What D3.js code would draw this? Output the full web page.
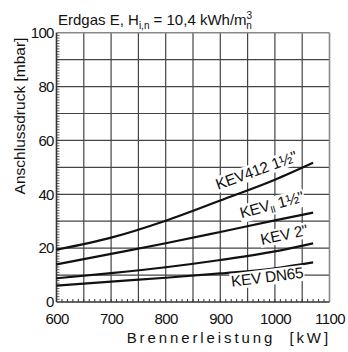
<!DOCTYPE html>
<html>
<head>
<meta charset="utf-8">
<script src="https://cdn.jsdelivr.net/npm/d3@7"></script>
<style>
  body { margin: 0; background: #fff; }
  text { font-family: 'Liberation Sans', Arial, sans-serif; fill: #111; }
</style>
</head>
<body>
<script>
const width = 348;
const height = 352;
const margin = {left: 56.5, right: 18.5, top: 32.7, bottom: 50};
const plotW = width - margin.left - margin.right;
const plotH = height - margin.top - margin.bottom;

// data (kW -> mbar)
const leistung = [600, 700, 800, 900, 1000, 1070];
const kev412 = [19.4, 23.9, 30.2, 37.7, 45.4, 51.7];
const kevII = [14.0, 17.9, 21.8, 26.0, 30.3, 33.2];
const kev2 = [8.8, 10.7, 12.9, 15.6, 18.8, 21.8];
const kevDN65 = [6.1, 7.6, 9.0, 10.6, 12.5, 14.7];
const xTicks = [600, 700, 800, 900, 1000, 1100];
const yTicks = [0, 20, 40, 60, 80, 100];

const series = [kev412, kevII, kev2, kevDN65];
// label anchors in data units: [kW, mbar, angle]
const labelAnchors = [[896, 41.6, -20], [939, 31.1, -15], [976, 21.2, -12], [921, 5.7, -7]];

const svg = d3.select('body')
  .append('svg')
  .attr('width', width)
  .attr('height', height);

const g = svg.append('g')
  .attr('transform', `translate(${margin.left}, ${margin.top})`);

const xScale = d3.scaleLinear().domain([600, 1100]).range([0, plotW]);
const yScale = d3.scaleLinear().domain([0, 100]).range([plotH, 0]);

// grid
g.append('g')
  .selectAll('line')
  .data(d3.range(650, 1100, 50))
  .join('line')
  .attr('x1', d => xScale(d)).attr('x2', d => xScale(d))
  .attr('y1', 0).attr('y2', plotH)
  .attr('stroke', '#444').attr('stroke-width', 1.2);

g.append('g')
  .selectAll('line')
  .data(d3.range(10, 100, 10))
  .join('line')
  .attr('y1', d => yScale(d)).attr('y2', d => yScale(d))
  .attr('x1', 0).attr('x2', plotW)
  .attr('stroke', '#444').attr('stroke-width', 1.2);

// minor ticks inside
g.append('g')
  .selectAll('line')
  .data(d3.range(610, 1100, 10))
  .join('line')
  .attr('x1', d => xScale(d)).attr('x2', d => xScale(d))
  .attr('y1', plotH).attr('y2', plotH - 3)
  .attr('stroke', '#333').attr('stroke-width', 1);

g.append('g')
  .selectAll('line')
  .data(d3.range(1, 100, 1))
  .join('line')
  .attr('y1', d => yScale(d)).attr('y2', d => yScale(d))
  .attr('x1', 0).attr('x2', 3)
  .attr('stroke', '#333').attr('stroke-width', 0.8);

// frame: top/right gray, left/bottom dark
g.append('line').attr('x1', 0).attr('x2', plotW).attr('y1', 0).attr('y2', 0)
  .attr('stroke', '#888').attr('stroke-width', 1.6);
g.append('line').attr('x1', plotW).attr('x2', plotW).attr('y1', 0).attr('y2', plotH)
  .attr('stroke', '#888').attr('stroke-width', 1.6);
g.append('line').attr('x1', 0).attr('x2', 0).attr('y1', 0).attr('y2', plotH)
  .attr('stroke', '#333').attr('stroke-width', 1.6);
g.append('line').attr('x1', 0).attr('x2', plotW).attr('y1', plotH).attr('y2', plotH)
  .attr('stroke', '#333').attr('stroke-width', 1.6);

// axes labels
const xAxis = d3.axisBottom(xScale).tickValues(xTicks).tickFormat(d3.format('d'))
  .tickSize(0).tickPadding(11);
const xG = g.append('g').attr('transform', `translate(0, ${plotH})`).call(xAxis);
xG.select('.domain').remove();
xG.selectAll('text').attr('font-size', 15).attr('letter-spacing', -0.6)
  .attr('font-family', "'Liberation Sans', Arial, sans-serif").attr('fill', '#111');

const yAxis = d3.axisLeft(yScale).tickValues(yTicks).tickSize(0).tickPadding(3);
const yG = g.append('g').call(yAxis);
yG.select('.domain').remove();
yG.selectAll('text').attr('font-size', 15).attr('letter-spacing', -0.8)
  .attr('font-family', "'Liberation Sans', Arial, sans-serif").attr('fill', '#111');

// curves
const line = d3.line()
  .x((d, i) => xScale(leistung[i]))
  .y(d => yScale(d))
  .curve(d3.curveMonotoneX);

g.append('g')
  .selectAll('path')
  .data(series)
  .join('path')
  .attr('d', line)
  .attr('fill', 'none')
  .attr('stroke', '#111')
  .attr('stroke-width', 2.2);

// curve labels with white boxes behind them
const labelG = g.append('g');
labelAnchors.forEach((a, i) => {
  const lg = labelG.append('g')
    .attr('transform', `translate(${xScale(a[0])}, ${yScale(a[1])}) rotate(${a[2]})`);
  const bg = lg.append('rect').attr('fill', '#fff');
  const t = lg.append('text')
    .attr('font-size', 15.5)
    .attr('letter-spacing', -0.3);
  if (i === 0) {
    t.text('KEV412 1½"');
  } else if (i === 1) {
    t.append('tspan').text('KEV');
    t.append('tspan').attr('font-size', 10).attr('dy', 3).text('II');
    t.append('tspan').attr('dy', -3).text(' 1½"');
  } else if (i === 2) {
    t.text('KEV 2"');
  } else {
    t.text('KEV DN65');
  }
  const bb = t.node().getBBox();
  bg.attr('x', bb.x - 1).attr('y', bb.y + 1).attr('width', bb.width + 2).attr('height', bb.height - 1);
});

// title
const title = svg.append('text')
  .attr('x', 58)
  .attr('y', 25)
  .attr('font-size', 15);
title.append('tspan').text('Erdgas E, H');
title.append('tspan').attr('font-size', 10).attr('dy', 4).text('i,n');
title.append('tspan').attr('dy', -4).text(' = 10,4 kWh/m');
title.append('tspan').attr('font-size', 10).attr('dy', -6).text('3');
title.append('tspan').attr('font-size', 10).attr('dx', -6).attr('dy', 10).text('n');

// axis titles
svg.append('text')
  .attr('x', 331)
  .attr('y', 343)
  .attr('text-anchor', 'end')
  .attr('font-size', 15)
  .attr('letter-spacing', 2.9)
  .style('white-space', 'pre')
  .text('Brennerleistung  [kW]');

svg.append('text')
  .attr('transform', 'translate(25, 116) rotate(-90)')
  .attr('text-anchor', 'middle')
  .attr('font-size', 15.5)
  .text('Anschlussdruck [mbar]');
</script>
</body>
</html>
